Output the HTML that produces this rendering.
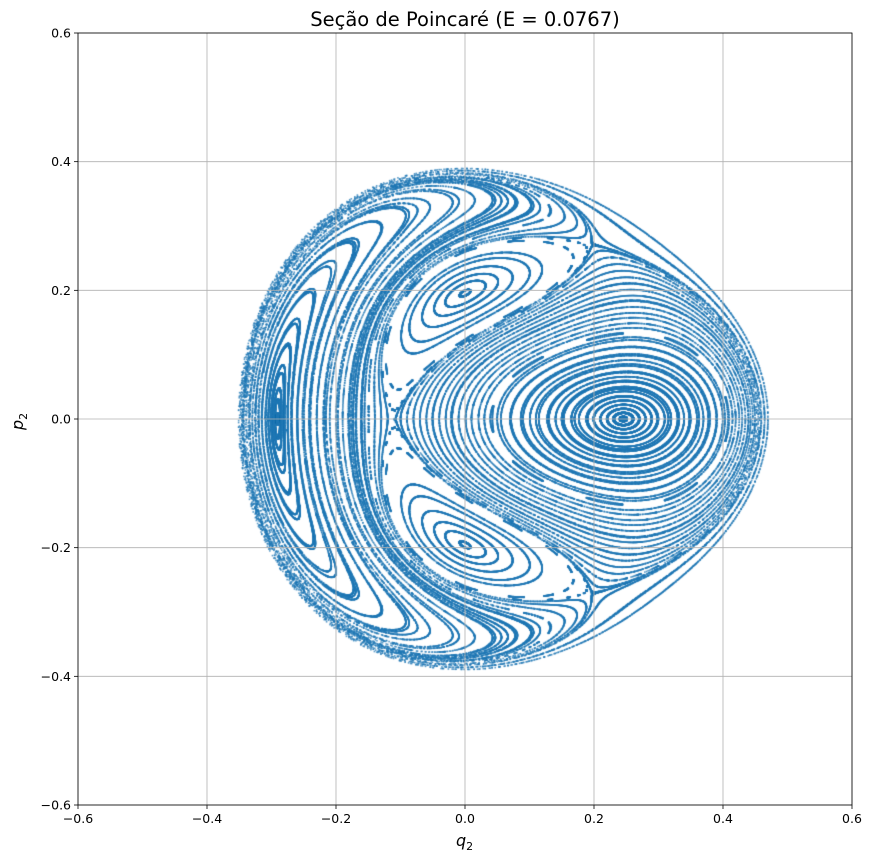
<!DOCTYPE html>
<html><head><meta charset="utf-8">
<style>
body{margin:0;background:#fff;}
#wrap{position:relative;width:872px;height:861px;font-family:"DejaVu Sans","Liberation Sans",sans-serif;}
canvas,svg{position:absolute;left:0;top:0;}
</style></head>
<body>
<div id="wrap">
<canvas id="cv" width="872" height="861"></canvas>
<svg id="sv" width="872" height="861"></svg>
</div>
<script>
const energy = 0.0767;
const initQ2 = [-0.35,-0.345,-0.34,-0.335,-0.33,-0.325,-0.32,-0.315,-0.31,-0.305,-0.30,-0.295,-0.29,-0.285,-0.28,-0.275,-0.27,-0.26,-0.25,-0.24,-0.23,-0.22,-0.21,-0.20,-0.19,-0.18,-0.17,-0.16,-0.15,-0.14,-0.13,-0.12,-0.11,-0.10,-0.09,-0.08,-0.07,-0.06,-0.05,-0.04,-0.03,-0.02,-0.01,0.01,0.03,0.05,0.07,0.09,0.11,0.13,0.15,0.17,0.19,0.20,0.21,0.22,0.23,0.24,0.25,0.26,0.27,0.28,0.29,0.30,0.31,0.32,0.33,0.34,0.35,0.36,0.37,0.38,0.39,0.40,0.41,0.42,0.43,0.44,0.45,0.46,0.465,0.47,
0.0,0.0,0.0,0.0,0.0,0.0,0.0,0.0,0.0,0.0,0.0,0.0,0.0,0.0,0.0,0.0,0.0,0.0,0.0,0.0,0.1,-0.1,0.2,-0.2,0.1,-0.1];
const initP2 = [0,0,0,0,0,0,0,0,0,0,0,0,0,0,0,0,0,0,0,0,0,0,0,0,0,0,0,0,0,0,0,0,0,0,0,0,0,0,0,0,0,0,0,0,0,0,0,0,0,0,0,0,0,0,0,0,0,0,0,0,0,0,0,0,0,0,0,0,0,0,0,0,0,0,0,0,0,0,0,0,0,0,
0.2,0.18,0.16,0.14,0.12,0.22,0.24,0.26,0.28,0.30,-0.2,-0.18,-0.16,-0.14,-0.12,-0.22,-0.24,-0.26,0.37,-0.37,0.34,0.33,0.27,-0.27,-0.34,0.36];
const xTicks = [-0.6,-0.4,-0.2,0.0,0.2,0.4,0.6];
const yTicks = [-0.6,-0.4,-0.2,0.0,0.2,0.4,0.6];
const L=78,R=852,T=33,B=805;
const X=v=>L+(v+0.6)/1.2*(R-L);
const Y=v=>B-(v+0.6)/1.2*(B-T);
const ctx=document.getElementById('cv').getContext('2d');
ctx.fillStyle='rgba(31,119,180,0.75)';
for(let o=0;o<initQ2.length;o++){
  const q20=initQ2[o],p20=initP2[o];
  const V=q20*q20/2-q20*q20*q20/3;
  const r=2*(energy-p20*p20/2-V);
  if(r<=0) continue;
  let a=0,b=q20,c=Math.sqrt(r),d=p20;
  const h=0.09;let n=0,steps=0;
  while(n<1400&&steps<150000){
    const k1a=c,k1b=d,k1c=-a-2*a*b,k1d=-b-a*a+b*b;
    let ta=a+h/2*k1a,tb=b+h/2*k1b,tc=c+h/2*k1c,td=d+h/2*k1d;
    const k2a=tc,k2b=td,k2c=-ta-2*ta*tb,k2d=-tb-ta*ta+tb*tb;
    ta=a+h/2*k2a;tb=b+h/2*k2b;tc=c+h/2*k2c;td=d+h/2*k2d;
    const k3a=tc,k3b=td,k3c=-ta-2*ta*tb,k3d=-tb-ta*ta+tb*tb;
    ta=a+h*k3a;tb=b+h*k3b;tc=c+h*k3c;td=d+h*k3d;
    const k4a=tc,k4b=td,k4c=-ta-2*ta*tb,k4d=-tb-ta*ta+tb*tb;
    const na=a+h/6*(k1a+2*k2a+2*k3a+k4a),nb=b+h/6*(k1b+2*k2b+2*k3b+k4b);
    const nc=c+h/6*(k1c+2*k2c+2*k3c+k4c),nd=d+h/6*(k1d+2*k2d+2*k3d+k4d);
    steps++;
    if(a<0&&na>=0&&nc>0){
      const f=-a/(na-a);
      const qq=b+f*(nb-b),pp=d+f*(nd-d);
      ctx.fillRect(X(qq)-0.8,Y(pp)-0.8,1.6,1.6);n++;
    }
    a=na;b=nb;c=nc;d=nd;
  }
}
const NS='http://www.w3.org/2000/svg',sv=document.getElementById('sv');
function mk(t,at,txt){const e=document.createElementNS(NS,t);for(const k in at)e.setAttribute(k,at[k]);if(txt!==undefined)e.textContent=txt;sv.appendChild(e);return e;}
const fmt=v=>(v<0?'\u2212':'')+Math.abs(v).toFixed(1);
xTicks.forEach(v=>{
  const g=mk('line',{x1:X(v),x2:X(v),y1:T,y2:B,stroke:'#b0b0b0','stroke-width':0.8});
  
  mk('line',{x1:X(v),x2:X(v),y1:B,y2:B+4,stroke:'#000','stroke-width':0.8});
  const t=mk('text',{x:X(v),y:B+18,'text-anchor':'middle','font-size':12.5},fmt(v));
  
});
yTicks.forEach(v=>{
  const g=mk('line',{x1:L,x2:R,y1:Y(v),y2:Y(v),stroke:'#b0b0b0','stroke-width':0.8});
  
  mk('line',{x1:L-4,x2:L,y1:Y(v),y2:Y(v),stroke:'#000','stroke-width':0.8});
  const t=mk('text',{x:L-7,y:Y(v)+4.5,'text-anchor':'end','font-size':12.5},fmt(v));
  
});
const fr=mk('rect',{x:L,y:T,width:R-L,height:B-T,fill:'none',stroke:'#000','stroke-width':0.8});

</script>
<svg width="872" height="861" style="position:absolute;left:0;top:0">
<text x="465" y="26" text-anchor="middle" font-size="19.5" font-family="DejaVu Sans, sans-serif">Seção de Poincaré (E = 0.0767)</text>
<text x="456" y="846" font-size="16" font-style="italic" font-family="DejaVu Sans, sans-serif">q<tspan font-size="11" dy="4" font-style="normal">2</tspan></text>
<text transform="translate(23,430) rotate(-90)" font-size="16" font-style="italic" font-family="DejaVu Sans, sans-serif">p<tspan font-size="11" dy="4" font-style="normal">2</tspan></text>
</svg>
</body></html>
